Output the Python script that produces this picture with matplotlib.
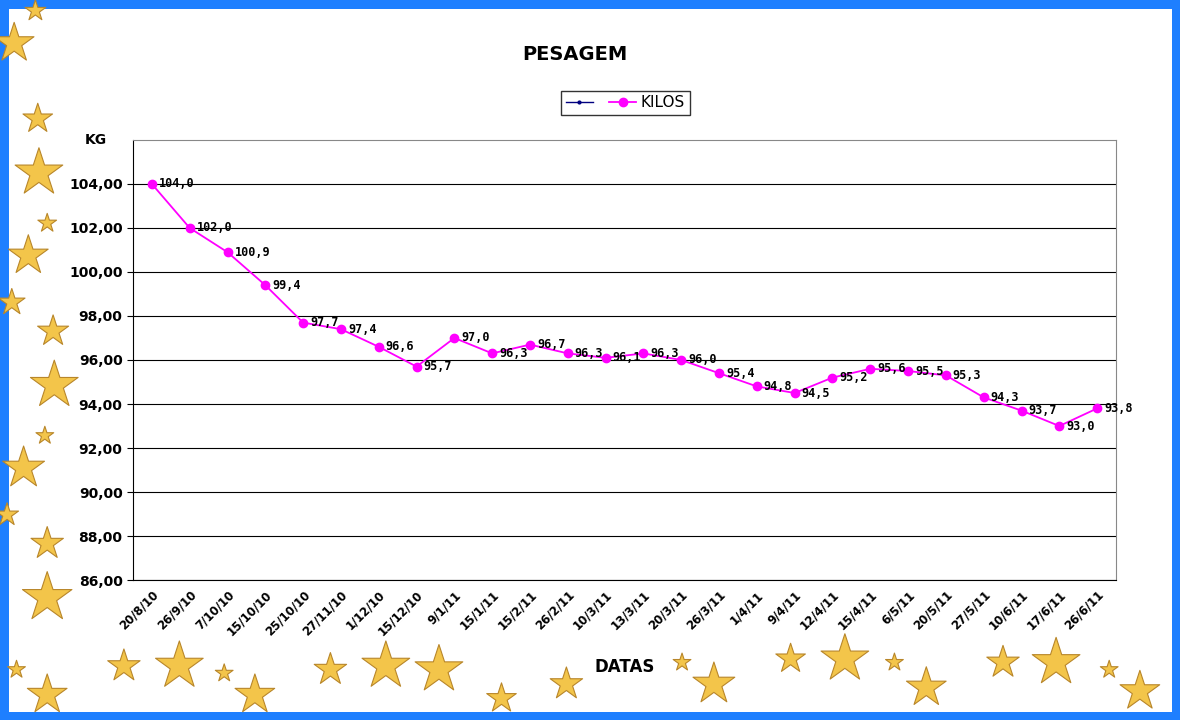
import matplotlib.pyplot as plt
import numpy as np

datas = ['20/8/10', '26/9/10', '7/10/10', '15/10/10', '25/10/10', '27/11/10', '1/12/10',
         '15/12/10', '9/1/11', '15/1/11', '15/2/11', '26/2/11', '10/3/11', '13/3/11',
         '20/3/11', '26/3/11', '1/4/11', '9/4/11', '12/4/11', '15/4/11', '6/5/11',
         '20/5/11', '27/5/11', '10/6/11', '17/6/11', '26/6/11']
kilos = [104.0, 102.0, 100.9, 99.4, 97.7, 97.4, 96.6, 95.7, 97.0, 96.3, 96.7, 96.3, 96.1,
         96.3, 96.0, 95.4, 94.8, 94.5, 95.2, 95.6, 95.5, 95.3, 94.3, 93.7, 93.0, 93.8]
y_ticks = [86, 88, 90, 92, 94, 96, 98, 100, 102, 104]

fig = plt.figure(figsize=(11.8, 7.2), dpi=100)
fig.patch.set_edgecolor('#1e7fff')
fig.patch.set_linewidth(12)

# decorative stars along left and bottom edges
stars = [(0.012, 0.94, 900), (0.03, 0.985, 250), (0.032, 0.835, 500), (0.033, 0.76, 1300),
         (0.04, 0.69, 200), (0.024, 0.645, 900), (0.01, 0.58, 400), (0.045, 0.54, 550),
         (0.046, 0.465, 1300), (0.038, 0.395, 180), (0.02, 0.35, 1000), (0.006, 0.285, 300),
         (0.04, 0.245, 600), (0.04, 0.17, 1400), (0.014, 0.07, 180), (0.04, 0.035, 900),
         (0.105, 0.075, 600), (0.152, 0.075, 1300), (0.19, 0.065, 180), (0.216, 0.035, 900),
         (0.28, 0.07, 600), (0.327, 0.075, 1300), (0.372, 0.07, 1300), (0.425, 0.03, 500),
         (0.48, 0.05, 600), (0.578, 0.08, 180), (0.605, 0.05, 1000), (0.67, 0.085, 500),
         (0.716, 0.085, 1300), (0.758, 0.08, 180), (0.785, 0.045, 900), (0.85, 0.08, 600),
         (0.895, 0.08, 1300), (0.94, 0.07, 180), (0.966, 0.04, 900)]
sx, sy, ss = zip(*stars)
star_ax = fig.add_axes([0, 0, 1, 1], zorder=-1)
star_ax.scatter(sx, sy, s=ss, marker='*', color='#f3c54a', edgecolors='#b8862a', linewidths=0.8)
star_ax.set_xlim(0, 1)
star_ax.set_ylim(0, 1)
star_ax.axis('off')

ax = fig.add_axes([0.1127, 0.1944, 0.8331, 0.6112])
x = np.arange(len(datas))
ax.plot([], [], color='navy', marker='.', markersize=4, lw=1, label=' ')
ax.plot(x, kilos, color='magenta', marker='o', markersize=6, lw=1.3, label='KILOS')
for xi, v in zip(x, kilos):
    ax.annotate(('%.1f' % v).replace('.', ','), (xi, v), xytext=(5, 0),
                textcoords='offset points', fontsize=8.5, fontweight='bold',
                ha='left', va='center', family='monospace')

ax.set_xlim(-0.5, len(datas) - 0.5)
ax.set_ylim(86, 106)
ax.set_yticks(y_ticks)
ax.set_yticklabels([('%.2f' % t).replace('.', ',') for t in y_ticks], fontsize=10, fontweight='bold')
ax.set_xticks(x)
ax.set_xticklabels(datas, rotation=45, ha='right', rotation_mode='anchor', fontsize=8.5,
                   fontweight='bold')
ax.tick_params(axis='x', length=0, pad=6)
ax.tick_params(axis='y', length=4, direction='out')
ax.grid(axis='y', color='black', lw=0.8)
ax.set_axisbelow(True)
for s in ax.spines.values():
    s.set_color('#888888')
ax.spines['left'].set_color('black')
ax.spines['bottom'].set_color('black')
ax.text(-0.027, 1.0, 'KG', transform=ax.transAxes, fontsize=10, fontweight='bold',
        ha='right', va='center')
ax.set_xlabel('DATAS', fontsize=12, fontweight='bold', labelpad=14)

fig.text(0.487, 0.925, 'PESAGEM', fontsize=14, fontweight='bold', ha='center', va='center')
fig.legend(loc='center', bbox_to_anchor=(0.53, 0.857), ncol=2, fontsize=11, frameon=True,
           fancybox=False, edgecolor='black', handlelength=1.8, columnspacing=0.4,
           handletextpad=0.3, borderpad=0.3)

fig.savefig('out.png', dpi=100)
